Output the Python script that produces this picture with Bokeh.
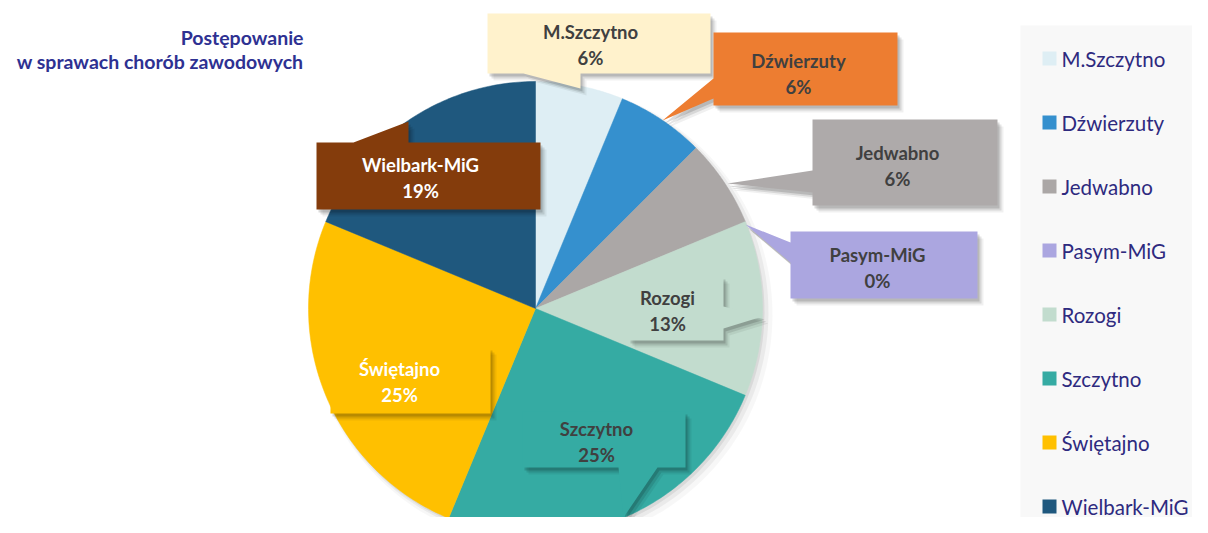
import numpy as np
from bokeh.plotting import figure
from bokeh.models import Range1d
from bokeh.embed import file_html
from bokeh.resources import INLINE
from bokeh.core.properties import value

# ---------------- data ----------------
title_lines = ["Postępowanie", "w sprawach chorób zawodowych"]
categories = ["M.Szczytno", "Dźwierzuty", "Jedwabno", "Pasym-MiG",
              "Rozogi", "Szczytno", "Świętajno", "Wielbark-MiG"]
counts = [1, 1, 1, 0, 2, 4, 4, 3]

slice_colors = ["#DEEEF4", "#3590CE", "#ABA7A6", "#ABA6E0",
                "#C2DCCE", "#35ABA3", "#FFC000", "#1F587E"]
label_fill = ["#FFF2CC", "#ED7D31", "#AEAAAA", "#ABA6E0",
              "#C2DCCE", "#35ABA3", "#FFC000", "#843C0C"]
label_text_color = ["#404040", "#404040", "#404040", "#404040",
                    "#404040", "#404040", "#FFFFFF", "#FFFFFF"]

# ---------------- layout (screen px) ----------------
FONT = "Lato"
CX, CY, R = 535, 308, 227

# callout shapes (layout only)
callouts = [
    [(487, 13), (710, 13), (710, 73), (580, 73), (580, 88), (523, 73), (487, 73)],
    [(713, 32), (897, 32), (897, 105), (713, 105), (713, 98), (662, 120), (713, 78)],
    [(812, 119), (997, 119), (997, 205), (812, 205), (812, 192), (727, 183), (812, 170)],
    [(790, 231), (977, 231), (977, 298), (790, 298), (790, 262), (745, 224), (790, 242)],
    [(628, 276), (723, 276), (723, 306), (762, 316), (723, 328), (723, 340), (628, 340)],
    [(522, 411), (685, 411), (685, 467), (657, 467), (623, 517), (618, 467), (522, 467)],
    [(330, 347), (490, 347), (490, 413), (330, 413)],
    [(316, 142), (353, 142), (408, 121), (408, 142), (540, 142), (540, 209), (316, 209)],
]
label_pos = [(590, 31), (798, 60), (897, 152), (877, 254),
             (667, 297), (596, 428), (399, 368), (420, 164)]
LINE_GAP = 26

p = figure(width=1192, height=517, output_backend="svg", toolbar_location=None,
           x_range=Range1d(0, 1192), y_range=Range1d(517, 0),
           min_border=0, background_fill_color="white", border_fill_color="white")
p.axis.visible = False
p.grid.visible = False
p.outline_line_color = None

# legend background
p.quad(left=[1020], right=[1215], top=[25], bottom=[545],
       fill_color="#F8F8F8", line_color=None)

# pie shadow
t = np.linspace(0, 2 * np.pi, 200)
for dx, dy, rr, a in [(6, 6, R + 4, 0.03), (4, 4, R + 2, 0.05), (2, 3, R, 0.07)]:
    p.patch(CX + dx + rr * np.sin(t), CY + dy - rr * np.cos(t),
            fill_color="black", fill_alpha=a, line_color=None)

# pie slices (clockwise from 12 o'clock)
total = sum(counts)
cum = np.concatenate([[0], np.cumsum(counts)]) / total * 2 * np.pi
xs, ys, cols = [], [], []
for i, c in enumerate(counts):
    if c == 0:
        continue
    th = np.linspace(cum[i], cum[i + 1], 80)
    xs.append(np.concatenate([[CX], CX + R * np.sin(th)]))
    ys.append(np.concatenate([[CY], CY - R * np.cos(th)]))
    cols.append(slice_colors[i])
p.patches(xs, ys, fill_color=cols, line_color=cols, line_width=0.5)

# callouts
for i, poly in enumerate(callouts):
    px = np.array([q[0] for q in poly], float)
    py = np.array([q[1] for q in poly], float)
    for dx, dy, a in [(6, 7, 0.06), (4, 5, 0.1), (2, 3, 0.14)]:
        p.patch(px + dx, py + dy, fill_color="black", fill_alpha=a, line_color=None)
    p.patch(px, py, fill_color=label_fill[i], line_color=None)

pcts = [int(np.floor(100 * c / total + 0.5)) for c in counts]
for i, cat in enumerate(categories):
    x, y = label_pos[i]
    p.text(x=[x, x], y=[y, y + LINE_GAP], text=[cat, f"{pcts[i]}%"],
           text_font=value(FONT), text_font_style="bold", text_font_size="18.5px",
           text_align="center", text_baseline="middle", text_color=label_text_color[i])

# title
p.text(x=[303, 303], y=[37, 61], text=title_lines,
       text_font=value(FONT), text_font_style="bold", text_font_size="19.5px",
       text_align="right", text_baseline="middle", text_color="#2E3192")

# legend
ly = [58 + 64 * i for i in range(len(categories))]
p.quad(left=[1042] * 8, right=[1056] * 8, top=[y - 7 for y in ly], bottom=[y + 7 for y in ly],
       fill_color=slice_colors, line_color=None)
p.text(x=[1061] * 8, y=ly, text=categories,
       text_font=value(FONT), text_font_size="20.5px",
       text_align="left", text_baseline="middle", text_color="#2E2A7F")

open("out.html", "w").write(file_html(p, INLINE))
